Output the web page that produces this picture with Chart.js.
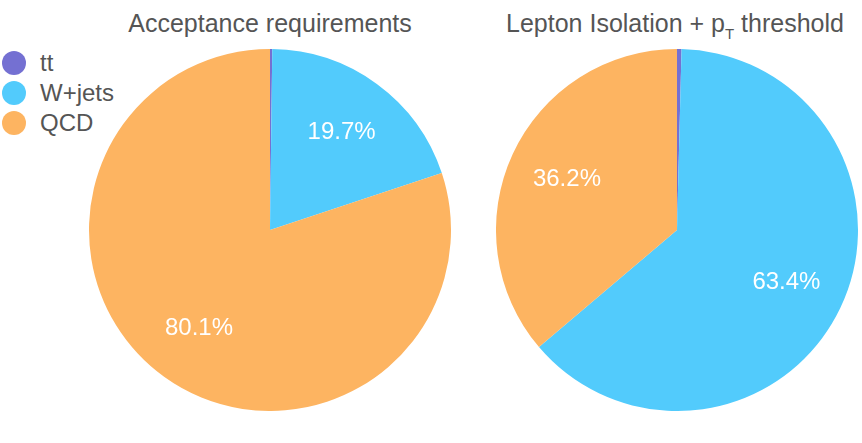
<!DOCTYPE html>
<html>
<head>
<meta charset="UTF-8">
<script src="https://cdn.jsdelivr.net/npm/chart.js"></script>
<style>
  body { margin: 0; background: #fff; font-family: "Liberation Sans", Arial, sans-serif; }
  #wrap { position: relative; width: 862px; height: 443px; overflow: hidden; }
  .title { position: absolute; top: 9px; font-size: 25px; color: #555; white-space: nowrap; transform: translateX(-50%); }
  .title sub { font-size: 15px; vertical-align: -7px; line-height: 0; }
  .pie { position: absolute; top: 49px; width: 362px; height: 362px; }
  #legend { position: absolute; left: 2px; top: 48px; font-size: 24px; color: #555; }
  #legend div { display: flex; align-items: center; height: 30px; }
  #legend span.dot { width: 24px; height: 24px; border-radius: 50%; margin-right: 14px; }
</style>
</head>
<body>
<div id="wrap">
  <div class="title" style="left:270px">Acceptance requirements</div>
  <div class="title" style="left:675px">Lepton Isolation + p<sub>T</sub> threshold</div>
  <div id="legend"></div>
  <div class="pie" style="left:89px"><canvas id="pieA"></canvas></div>
  <div class="pie" style="left:496px"><canvas id="pieB"></canvas></div>
</div>
<script>
// samples and shares (%)
const samples = ['tt', 'W+jets', 'QCD']
const acceptance = [0.2, 19.7, 80.1]
const isolation = [0.4, 63.4, 36.2]
const colors = ['#7470d2', '#52cbfc', '#fdb461']

// legend
const legend = document.getElementById('legend')
samples.forEach((s, i) => {
  const row = document.createElement('div')
  row.innerHTML = `<span class="dot" style="background:${colors[i]}"></span>${s}`
  legend.appendChild(row)
})

// percentage labels inside the slices
const pctLabels = {
  id: 'pctLabels',
  afterDatasetsDraw(chart) {
    const ctx = chart.ctx
    const values = chart.data.datasets[0].data
    chart.getDatasetMeta(0).data.forEach((arc, i) => {
      if (values[i] < 5) return
      const p = arc.getProps(['x', 'y', 'startAngle', 'endAngle', 'outerRadius'], true)
      const mid = (p.startAngle + p.endAngle) / 2
      const r = p.outerRadius * 0.67
      ctx.save()
      ctx.fillStyle = '#fff'
      ctx.font = '24px "Liberation Sans", Arial, sans-serif'
      ctx.textAlign = 'center'
      ctx.textBaseline = 'middle'
      ctx.fillText(values[i].toFixed(1) + '%', p.x + Math.cos(mid) * r, p.y + Math.sin(mid) * r)
      ctx.restore()
    })
  }
}

function makePie(id, values) {
  new Chart(document.getElementById(id), {
    type: 'pie',
    data: {
      labels: samples,
      datasets: [{ data: values, backgroundColor: colors, borderWidth: 0 }]
    },
    options: {
      responsive: true,
      maintainAspectRatio: false,
      animation: false,
      layout: { padding: 0 },
      plugins: { legend: { display: false }, tooltip: { enabled: false } }
    },
    plugins: [pctLabels]
  })
}

makePie('pieA', acceptance)
makePie('pieB', isolation)
</script>
</body>
</html>
